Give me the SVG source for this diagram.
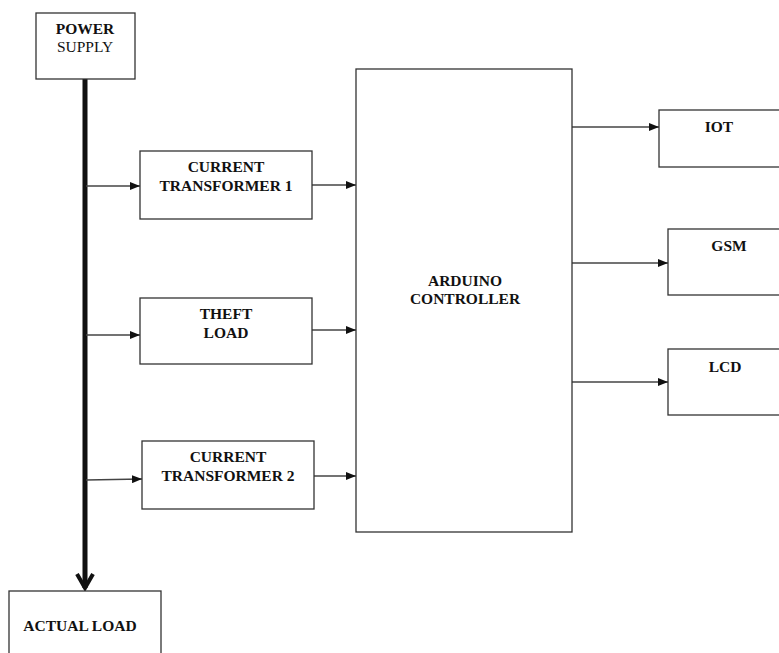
<svg xmlns="http://www.w3.org/2000/svg" width="779" height="653" viewBox="0 0 779 653">
<style>
.box{fill:#fff;stroke:#333;stroke-width:1.3}
.t{font-family:"Liberation Serif","Times New Roman",serif;font-size:15.5px;font-weight:bold;fill:#111;text-anchor:middle}
.r{font-weight:normal}
.c{stroke:#444;stroke-width:1.5;fill:none}
</style>
<defs>
<marker id="ah" markerWidth="10" markerHeight="8" refX="10" refY="4" orient="auto" markerUnits="userSpaceOnUse">
<path d="M0,0 L10,4 L0,8 Z" fill="#111"/>
</marker>
</defs>
<rect width="779" height="653" fill="#fff"/>
<g id="connectors">
<line x1="85" y1="79" x2="85" y2="588" stroke="#111" stroke-width="5"/>
<polyline points="77,574 85,588 93,574" fill="none" stroke="#111" stroke-width="4"/>
<line class="c" x1="86" y1="186" x2="140" y2="186" marker-end="url(#ah)"/>
<line class="c" x1="86" y1="335" x2="140" y2="335" marker-end="url(#ah)"/>
<line class="c" x1="86" y1="480" x2="142" y2="479" marker-end="url(#ah)"/>
<line class="c" x1="312" y1="185" x2="356" y2="185" marker-end="url(#ah)"/>
<line class="c" x1="312" y1="330" x2="356" y2="330" marker-end="url(#ah)"/>
<line class="c" x1="314" y1="476" x2="356" y2="476" marker-end="url(#ah)"/>
<line class="c" x1="572" y1="127" x2="659" y2="127" marker-end="url(#ah)"/>
<line class="c" x1="572" y1="263" x2="668" y2="263" marker-end="url(#ah)"/>
<line class="c" x1="572" y1="382" x2="668" y2="382" marker-end="url(#ah)"/>
</g>
<g id="power-supply">
<rect class="box" x="36" y="13" width="99" height="66"/>
<text class="t" x="85" y="34">POWER</text>
<text class="t r" x="85" y="52">SUPPLY</text>
</g>
<g id="ct1">
<rect class="box" x="140" y="151" width="172" height="68"/>
<text class="t" x="226" y="172">CURRENT</text>
<text class="t" x="226" y="191">TRANSFORMER 1</text>
</g>
<g id="theft-load">
<rect class="box" x="140" y="298" width="172" height="66"/>
<text class="t" x="226" y="319">THEFT</text>
<text class="t" x="226" y="338">LOAD</text>
</g>
<g id="ct2">
<rect class="box" x="142" y="441" width="172" height="68"/>
<text class="t" x="228" y="462">CURRENT</text>
<text class="t" x="228" y="481">TRANSFORMER 2</text>
</g>
<g id="arduino">
<rect class="box" x="356" y="69" width="216" height="463"/>
<text class="t" x="465" y="286">ARDUINO</text>
<text class="t" x="465" y="304">CONTROLLER</text>
</g>
<g id="iot">
<rect class="box" x="659" y="110" width="130" height="57"/>
<text class="t" x="719" y="132">IOT</text>
</g>
<g id="gsm">
<rect class="box" x="668" y="229" width="130" height="66"/>
<text class="t" x="729" y="251">GSM</text>
</g>
<g id="lcd">
<rect class="box" x="668" y="349" width="130" height="66"/>
<text class="t" x="725" y="372">LCD</text>
</g>
<g id="actual-load">
<rect class="box" x="9" y="591" width="152" height="80"/>
<text class="t" x="80" y="631">ACTUAL LOAD</text>
</g>
</svg>
